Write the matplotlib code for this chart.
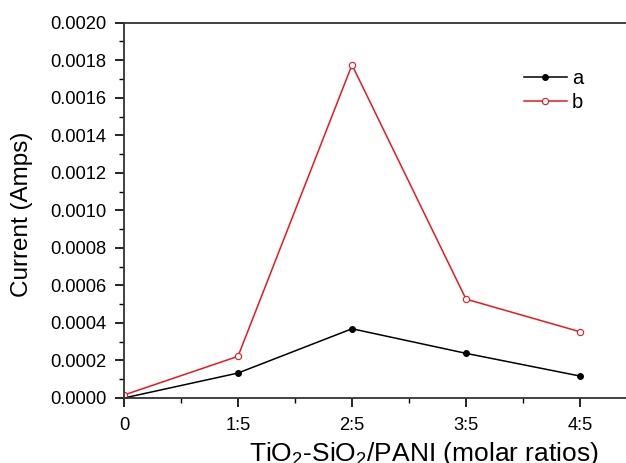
import numpy as np
import matplotlib.pyplot as plt
from matplotlib.ticker import MultipleLocator

plt.rcParams['font.family'] = ['Liberation Sans', 'DejaVu Sans']
plt.rcParams['mathtext.fontset'] = 'custom'
plt.rcParams['mathtext.rm'] = 'Liberation Sans'
plt.rcParams['mathtext.it'] = 'Liberation Sans'

ratio_labels = ['0', '1:5', '2:5', '3:5', '4:5']
x_pos = [0, 1, 2, 3, 4]
current_a = [0.0, 0.000133, 0.000369, 0.000238, 0.000117]
current_b = [0.000016, 0.000222, 0.001775, 0.000527, 0.000353]

W, H = 626, 463
fig = plt.figure(figsize=(W / 100, H / 100), dpi=100)
ax = fig.add_axes([124 / W, 65 / H, 513 / W, 375.3 / H])

ax.plot(x_pos, current_a, color='black', linewidth=1.1, marker='o',
        markersize=4, label='a')
ax.plot(x_pos, current_b, color='#e8191f', linewidth=1.1, marker='o',
        markersize=4.5, markerfacecolor='white', markeredgecolor='#e8191f',
        markeredgewidth=0.8, label='b')

ax.set_xlim(0, 4.5)
ax.set_ylim(0, 0.002)
ax.set_xticks(x_pos)
ax.set_xticklabels(ratio_labels)
ax.xaxis.set_minor_locator(MultipleLocator(0.5))
yt = np.arange(0, 0.00201, 0.0002)
ax.set_yticks(yt)
ax.set_yticklabels(['%.4f' % v for v in yt])
ax.yaxis.set_minor_locator(MultipleLocator(0.0001))

ax.tick_params(which='major', direction='out', length=6.5, width=1.2, labelsize=13.2)
ax.tick_params(axis='y', which='major', pad=6)
ax.tick_params(axis='x', which='major', pad=7)
ax.tick_params(which='minor', direction='out', length=3.5, width=1.0)
for sp in ax.spines.values():
    sp.set_linewidth(1.3)
    sp.set_color('#333333')

# label positions in axes fraction
ax.set_xlabel('TiO$_2$-SiO$_2$/PANI (molar ratios)', fontsize=19)
ax.xaxis.set_label_coords((424 - 124) / 513, -(454 - 398) / 375.3)
ax.xaxis.label.set_va('center')
ax.set_ylabel('Current (Amps)', fontsize=17.5)
ax.yaxis.set_label_coords(-(124 - 22) / 513, 0.49)
ax.yaxis.label.set_va('center')

ax.legend(loc='upper left', bbox_to_anchor=(0.745, 0.925), frameon=False,
          fontsize=14.5, handlelength=2.1, handletextpad=0.25, labelspacing=0.24)

fig.savefig('out.png', dpi=100)
